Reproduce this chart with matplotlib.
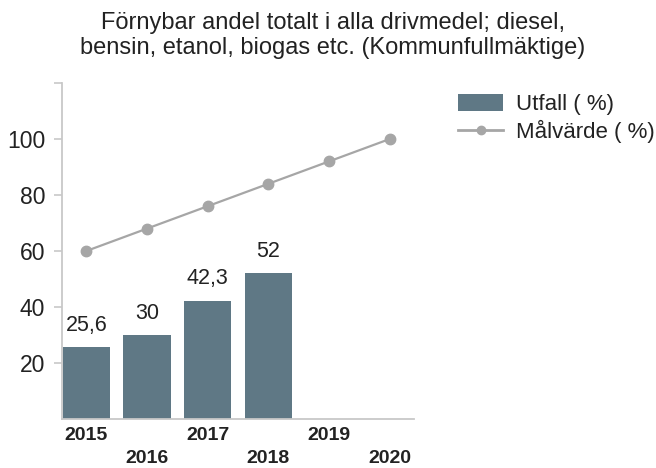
import matplotlib
matplotlib.use("Agg")
import matplotlib.pyplot as plt
from matplotlib.lines import Line2D
from matplotlib.patches import Patch

plt.rcParams['font.family'] = ['Liberation Sans', 'DejaVu Sans']

years = ["2015", "2016", "2017", "2018", "2019", "2020"]
utfall = [25.6, 30, 42.3, 52]
utfall_labels = ["25,6", "30", "42,3", "52"]
malvarde = [60, 68, 76, 84, 92, 100]
yticks = [20, 40, 60, 80, 100]
title = "Förnybar andel totalt i alla drivmedel; diesel,\nbensin, etanol, biogas etc. (Kommunfullmäktige)"

bar_color = "#5f7885"
line_color = "#a6a6a6"
axis_color = "#c8c8c8"
text_color = "#222222"

fig = plt.figure(figsize=(6.56, 4.68), dpi=100)
ax = fig.add_axes([0.0945, 0.1047, 0.5365, 0.7179])

x = list(range(len(years)))
ax.bar(x[:len(utfall)], utfall, width=0.78, color=bar_color, zorder=2)
for xi, v, lab in zip(x, utfall, utfall_labels):
    ax.text(xi, v + 4, lab, ha="center", va="bottom", fontsize=15.5, color=text_color)
ax.plot(x, malvarde, color=line_color, marker="o", markersize=7.5, linewidth=1.6, zorder=3)

ax.set_xlim(-0.4, 5.4)
ax.set_ylim(0, 120)
ax.set_yticks(yticks + [120])
ax.set_yticklabels([str(t) for t in yticks] + [""], fontsize=16.5, color=text_color)
ax.set_xticks(x)
ax.set_xticklabels([y if i % 2 == 0 else "\n" + y for i, y in enumerate(years)],
                   fontsize=14, fontweight="bold", color=text_color, linespacing=1.45)
ax.tick_params(axis="x", length=0, pad=6)
ax.tick_params(axis="y", length=6, width=1.2, color=axis_color, pad=6)

for s in ["top", "right"]:
    ax.spines[s].set_visible(False)
ax.spines["left"].set_color(axis_color)
ax.spines["bottom"].set_color(axis_color)
ax.spines["left"].set_linewidth(1.3)
ax.spines["bottom"].set_linewidth(1.3)

fig.text(0.507, 0.974, title, ha="center", va="top", fontsize=17, color=text_color, linespacing=1.18)

handles = [Patch(facecolor=bar_color, edgecolor="none", label="Utfall ( %)"),
           Line2D([0], [0], color=line_color, marker="o", markersize=6, linewidth=2, label="Målvärde ( %)")]
fig.legend(handles=handles, loc="upper left", bbox_to_anchor=(0.698, 0.8), frameon=False,
           borderpad=0, borderaxespad=0,
           fontsize=16, handlelength=2.05, handleheight=0.86, handletextpad=0.55, labelspacing=0.22,
           labelcolor=text_color)

fig.savefig("out.png", dpi=100)
